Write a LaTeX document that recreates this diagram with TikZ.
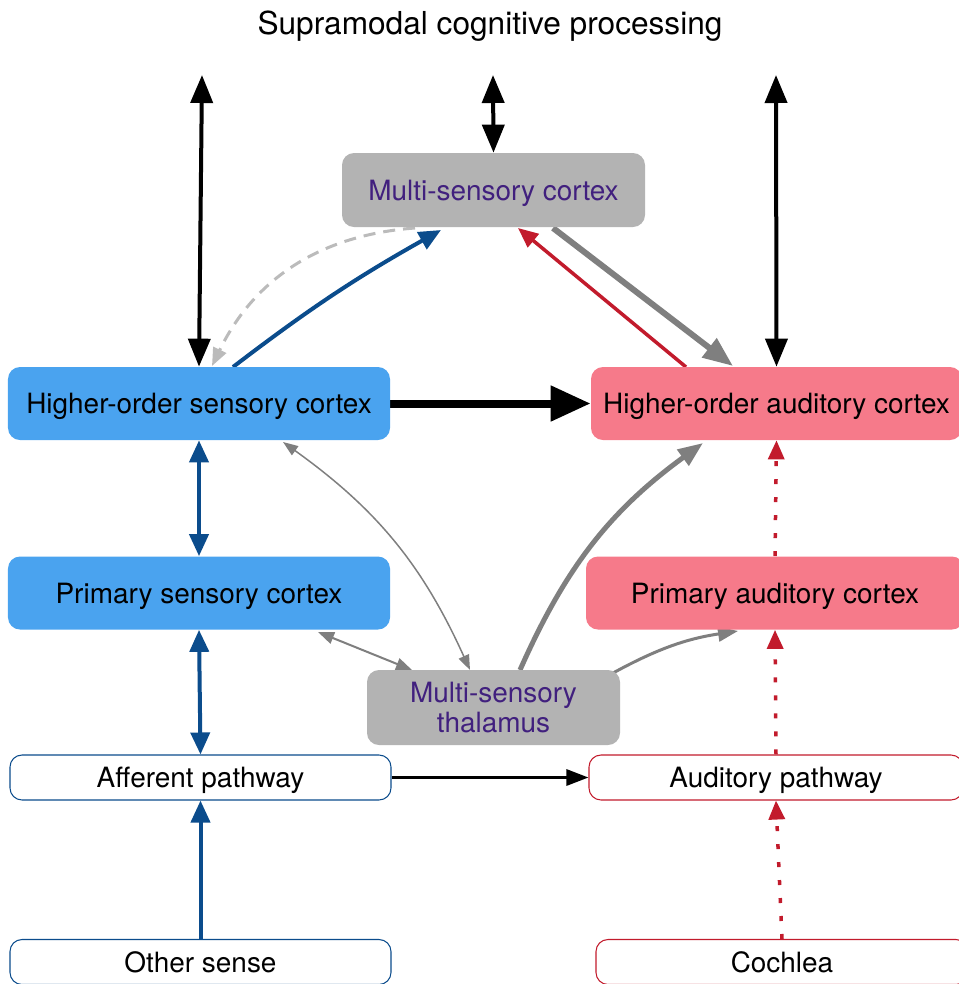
\documentclass[tikz,border=0pt]{standalone}
\usepackage{fontspec}
\setmainfont{TeX Gyre Heros}
\usepackage{tikz}
\usetikzlibrary{positioning}
\usetikzlibrary{arrows.meta}
\pgfdeclarelayer{nodelayer}
\pgfdeclarelayer{edgelayer}
\pgfsetlayers{edgelayer,nodelayer,main}
\definecolor{senseblue}{HTML}{4AA3EF}
\definecolor{audpink}{HTML}{F67A8A}
\definecolor{multigray}{HTML}{B3B3B3}
\definecolor{multitext}{HTML}{41207E}
\definecolor{pathblue}{HTML}{0B4C8C}
\definecolor{audred}{HTML}{C21B2C}
\definecolor{arrgray}{HTML}{7F7F7F}
\definecolor{dashgray}{HTML}{BBBBBB}
\tikzstyle{none}=[inner sep=0pt]
\tikzstyle{txt}=[font=\fontsize{15.9}{17.2}\selectfont]
\tikzstyle{label}=[txt, text height=11.45pt, text depth=0pt]
\tikzstyle{title}=[font=\fontsize{18}{20}\selectfont, text height=12.96pt, text depth=0pt]
\tikzstyle{blubox}=[label, rectangle, rounded corners=0.24cm, fill=senseblue, minimum width=7.64cm, minimum height=1.46cm]
\tikzstyle{pinkbox}=[label, rectangle, rounded corners=0.24cm, fill=audpink, minimum height=1.46cm]
\tikzstyle{graybox}=[rectangle, rounded corners=0.24cm, fill=multigray, text=multitext, align=center, minimum height=1.48cm]
\tikzstyle{bluline}=[label, rectangle, rounded corners=0.24cm, draw=pathblue, line width=0.6pt, fill=white, minimum width=7.62cm, minimum height=0.9cm]
\tikzstyle{redline}=[label, rectangle, rounded corners=0.24cm, draw=audred, line width=0.6pt, fill=white, minimum height=0.9cm]
\tikzset{topdbl/.style={line width=0.08cm, {Triangle[length=0.56cm,width=0.44cm]}-{Triangle[length=0.56cm,width=0.44cm]}}}
\tikzset{bludbl/.style={draw=pathblue, line width=0.08cm, {Triangle[length=0.44cm,width=0.38cm]}-{Triangle[length=0.44cm,width=0.38cm]}}}
\tikzset{bluarr/.style={draw=pathblue, line width=0.08cm, -{Triangle[length=0.44cm,width=0.38cm]}}}
\tikzset{redarr/.style={draw=audred, line width=0.07cm, -{Triangle[length=0.4cm,width=0.34cm]}}}
\tikzset{reddot/.style={draw=audred, line width=0.07cm, dash pattern=on 0.1cm off 0.26cm, -{Triangle[length=0.38cm,width=0.32cm]}}}
\tikzset{grayarr/.style={draw=arrgray, -{Triangle[length=0.5cm,width=0.38cm]}}}

\begin{document}
\begin{tikzpicture}
	\useasboundingbox (0,0) rectangle (19.18,-19.68);
	\begin{pgfonlayer}{nodelayer}
		\node [style=title] (0) at (9.8, -0.47) {Supramodal cognitive processing};
		\node [style=graybox, label, minimum width=6.06cm] (1) at (9.87, -3.8) {Multi-sensory cortex};
		\node [style=blubox] (2) at (3.98, -8.07) {Higher-order sensory cortex};
		\node [style=pinkbox, minimum width=7.42cm] (3) at (15.53, -8.07) {Higher-order auditory cortex};
		\node [style=blubox] (4) at (3.98, -11.86) {Primary sensory cortex};
		\node [style=pinkbox, minimum width=7.56cm] (5) at (15.5, -11.86) {Primary auditory cortex};
		\node [style=graybox, txt, minimum width=5.06cm, minimum height=1.5cm] (6) at (9.87, -14.15) {Multi-sensory\\thalamus};
		\node [style=bluline] (7) at (4.01, -15.55) {Afferent pathway};
		\node [style=redline, minimum width=7.48cm] (8) at (15.52, -15.55) {Auditory pathway};
		\node [style=bluline] (9) at (4.01, -19.24) {Other sense};
		\node [style=redline, minimum width=7.44cm] (10) at (15.64, -19.24) {Cochlea};
		\node [style=none] (11) at (4.04, -1.5) {};
		\node [style=none] (12) at (9.86, -1.5) {};
		\node [style=none] (13) at (15.52, -1.5) {};
		\node [style=none] (14) at (8.3, -4.56) {};
		\node [style=none] (15) at (4.24, -7.32) {};
		\node [style=none] (16) at (4.66, -7.34) {};
		\node [style=none] (17) at (8.82, -4.6) {};
		\node [style=none] (18) at (13.72, -7.34) {};
		\node [style=none] (19) at (10.36, -4.56) {};
		\node [style=none] (20) at (11.06, -4.56) {};
		\node [style=none] (21) at (14.66, -7.32) {};
		\node [style=none] (22) at (5.66, -8.84) {};
		\node [style=none] (23) at (9.4, -13.4) {};
		\node [style=none] (24) at (6.36, -12.64) {};
		\node [style=none] (25) at (8.24, -13.4) {};
		\node [style=none] (26) at (10.4, -13.4) {};
		\node [style=none] (27) at (14.06, -8.86) {};
		\node [style=none] (28) at (12.26, -13.46) {};
		\node [style=none] (29) at (14.76, -12.62) {};
	\end{pgfonlayer}
	\begin{pgfonlayer}{edgelayer}
		\draw [style=topdbl] (11.center) to (2.north);
		\draw [style=topdbl] (12.center) to (1.north);
		\draw [style=topdbl] (13.center) to (3.north);
		\draw [draw=dashgray, line width=0.06cm, dash pattern=on 0.24cm off 0.16cm, -{Triangle[length=0.36cm,width=0.28cm]}, bend right=30] (14.center) to (15.center);
		\draw [style=bluarr, bend left=4] (16.center) to (17.center);
		\draw [style=redarr] (18.center) to (19.center);
		\draw [style=grayarr, line width=0.12cm, -{Triangle[length=0.6cm,width=0.46cm]}] (20.center) to (21.center);
		\draw [line width=0.16cm, -{Triangle[length=0.8cm,width=0.68cm]}] (2.east) to (3.west);
		\draw [style=bludbl] (2.south) to (4.north);
		\draw [style=bludbl] (4.south) to (7.north);
		\draw [style=bluarr] (9.north) to (7.south);
		\draw [style=reddot] (10.north) to (8.south);
		\draw [style=reddot] (8.north) to (5.south);
		\draw [style=reddot] (5.north) to (3.south);
		\draw [line width=0.06cm, -{Triangle[length=0.44cm,width=0.32cm]}] (7.east) to (8.west);
		\draw [draw=arrgray, line width=0.03cm, {Triangle[length=0.3cm,width=0.22cm]}-{Triangle[length=0.3cm,width=0.22cm]}, bend left=15] (22.center) to (23.center);
		\draw [draw=arrgray, line width=0.04cm, {Triangle[length=0.32cm,width=0.24cm]}-{Triangle[length=0.32cm,width=0.24cm]}] (24.center) to (25.center);
		\draw [style=grayarr, line width=0.1cm, bend left=15] (26.center) to (27.center);
		\draw [style=grayarr, line width=0.06cm, -{Triangle[length=0.4cm,width=0.3cm]}, bend left=10] (28.center) to (29.center);
	\end{pgfonlayer}
\end{tikzpicture}
\end{document}
